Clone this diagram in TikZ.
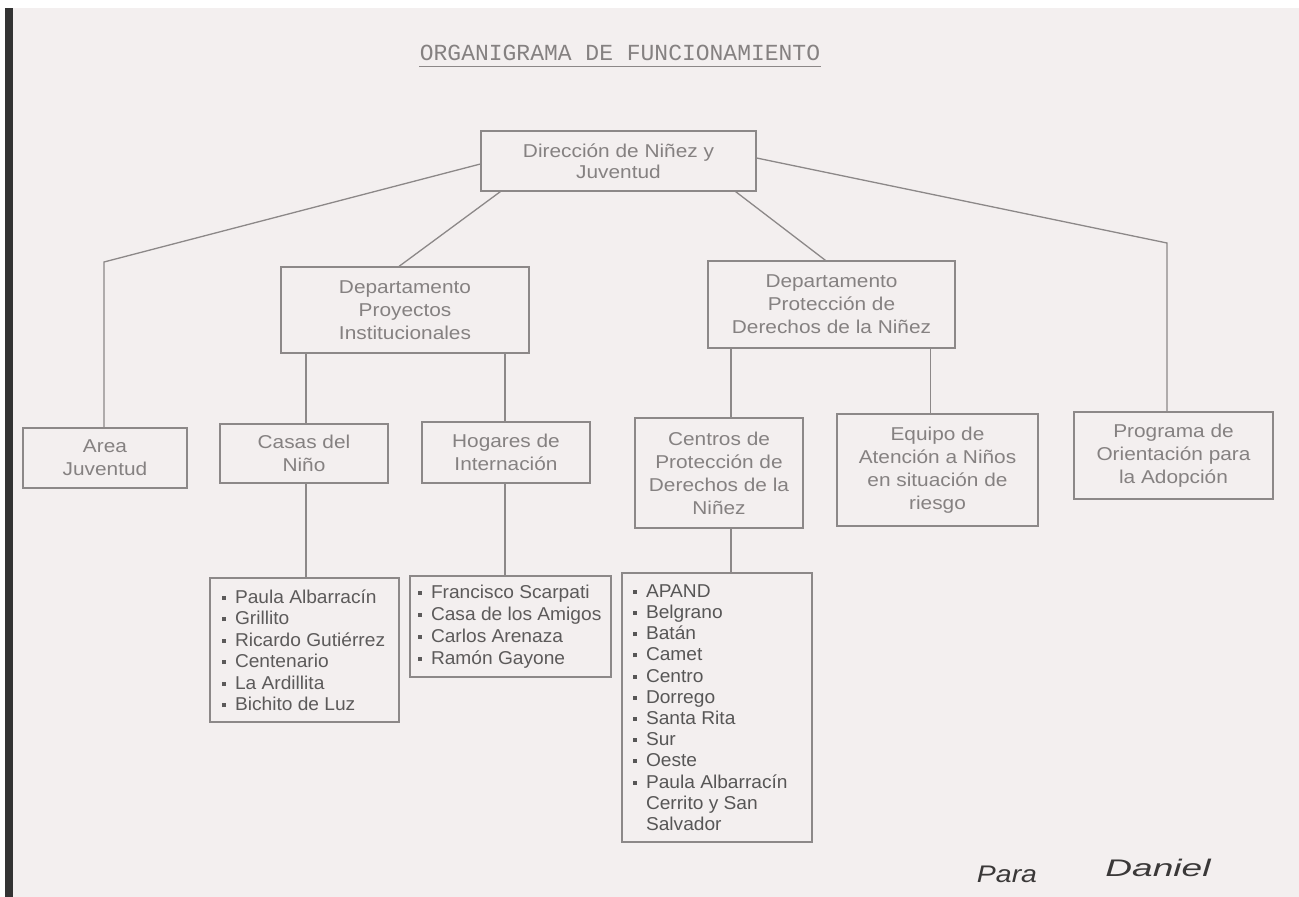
\documentclass[tikz,border=0pt]{standalone}
\usepackage{fontspec}
\setmainfont[FakeStretch=1.03]{Liberation Sans}
\newfontfamily\boxfont[FakeStretch=1.12]{Liberation Sans}
\newfontfamily\titlefont{Liberation Mono}
\usepackage{xcolor}
\definecolor{paper}{HTML}{F3EFEF}
\definecolor{boxgray}{HTML}{858181}
\definecolor{listgray}{HTML}{5C5A5A}
\definecolor{linegray}{HTML}{8C8888}
\definecolor{ink}{HTML}{3A3838}
\newcommand{\itm}{\raisebox{3.5pt}{\rule{4pt}{4pt}}\hspace{9pt}}
\tikzset{
  unit/.style={draw=linegray, text=boxgray, align=center, inner sep=0pt, font=\boxfont\fontsize{18.6}{23}\selectfont},
  listbox/.style={draw=linegray, text=listgray, align=flush left, inner xsep=10pt, inner ysep=0pt, font=\fontsize{18.6}{21.5}\selectfont},
  link/.style={draw=linegray, line width=1.3}
}

\begin{document}
\begin{tikzpicture}[x=1pt, y=-1pt, line width=1.2]
	% paper
	\fill[white] (0,0) rectangle (1299,897);
	\fill[paper] (13,8) rectangle (1299,897);
	\fill[black!80] (5,8) rectangle (13,897);
	% title
	\node[inner sep=0pt, text=boxgray, font=\titlefont\fontsize{23}{23}\selectfont] (title) at (620,53) {ORGANIGRAMA DE FUNCIONAMIENTO};
	\draw[link] ([yshift=-6pt]title.base west) -- ([yshift=-6pt]title.base east);
	% level 1
	\node[unit, minimum width=275, minimum height=60, font=\boxfont\fontsize{18.6}{21}\selectfont] (dir) at (618.5,161) {Dirección de Niñez y\\Juventud};
	% level 2
	\node[unit, minimum width=248, minimum height=86] (dpi) at (405,310) {Departamento\\Proyectos\\Institucionales};
	\node[unit, minimum width=247, minimum height=87] (dpd) at (831.5,304.5) {Departamento\\Protección de\\Derechos de la Niñez};
	% level 3
	\node[unit, minimum width=164, minimum height=60] (area) at (105,458) {Area\\Juventud};
	\node[unit, minimum width=168, minimum height=59] (casas) at (304,453.5) {Casas del\\Niño};
	\node[unit, minimum width=168, minimum height=61] (hogares) at (506,452.5) {Hogares de\\Internación};
	\node[unit, minimum width=168, minimum height=110] (centros) at (719,473) {Centros de\\Protección de\\Derechos de la\\Niñez};
	\node[unit, minimum width=201, minimum height=112] (equipo) at (937.5,470) {Equipo de\\Atención a Niños\\en situación de\\riesgo};
	\node[unit, minimum width=199, minimum height=87] (programa) at (1173.5,455.5) {Programa de\\Orientación para\\la Adopción};
	% lists
	\node[listbox, inner xsep=12pt, text width=165, minimum height=144] (lcasas) at (304.5,650) {\itm Paula Albarracín\\\itm Grillito\\\itm Ricardo Gutiérrez\\\itm Centenario\\\itm La Ardillita\\\itm Bichito de Luz};
	\node[listbox, inner xsep=8pt, text width=185, minimum height=101, font=\fontsize{18.6}{22}\selectfont] (lhogares) at (510.5,626.5) {\itm Francisco Scarpati\\\mbox{\itm Casa de los Amigos}\\\itm Carlos Arenaza\\\itm Ramón Gayone};
	\node[listbox, text=ink!85, inner xsep=11pt, text width=168, minimum height=269, font=\fontsize{18.6}{21.2}\selectfont] (lcentros) at (717,707.5) {\itm APAND\\\itm Belgrano\\\itm Batán\\\itm Camet\\\itm Centro\\\itm Dorrego\\\itm Santa Rita\\\itm Sur\\\itm Oeste\\\itm Paula Albarracín\\\hphantom{\itm}Cerrito y San\\\hphantom{\itm}Salvador};
	% connectors
	\coordinate (ka) at (104,262);
	\coordinate (kp) at (1167,243);
	\draw[link] ([yshift=-3pt]dir.west) -- (ka) -- (ka |- area.north);
	\draw[link] ([yshift=3pt]dir.east) -- (kp) -- (kp |- programa.north);
	\draw[link] ([xshift=20pt]dir.south west) -- ([xshift=-6pt]dpi.north);
	\draw[link] ([xshift=-21pt]dir.south east) -- ([xshift=-6pt]dpd.north);
	\draw[link] ([xshift=2pt]casas.north |- dpi.south) -- ([xshift=2pt]casas.north);
	\draw[link] ([xshift=-1pt]hogares.north |- dpi.south) -- ([xshift=-1pt]hogares.north);
	\draw[link] ([xshift=12pt]centros.north |- dpd.south) -- ([xshift=12pt]centros.north);
	\draw[link] ([xshift=-7pt]equipo.north |- dpd.south) -- ([xshift=-7pt]equipo.north);
	\draw[link] ([xshift=2pt]casas.south) -- ([xshift=2pt]casas.south |- lcasas.north);
	\draw[link] ([xshift=-1pt]hogares.south) -- ([xshift=-1pt]hogares.south |- lhogares.north);
	\draw[link] ([xshift=12pt]centros.south) -- ([xshift=12pt]centros.south |- lcentros.north);
	% handwriting
	\node[text=ink, font=\itshape\fontsize{24}{24}\selectfont] (para) at (1007,874) {\scalebox{1.15}[1]{Para}};
	\node[text=ink, font=\itshape\fontsize{24}{24}\selectfont] (daniel) at (1158,868) {\scalebox{1.5}[1]{Daniel}};
\end{tikzpicture}
\end{document}
